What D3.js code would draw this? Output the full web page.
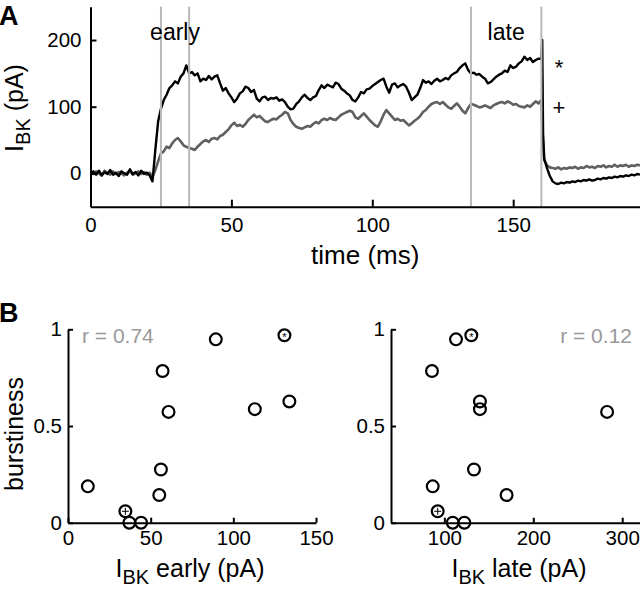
<!DOCTYPE html>
<html>
<head>
<meta charset="utf-8">
<script src="https://cdn.jsdelivr.net/npm/d3@7"></script>
<style>
  html, body { margin: 0; padding: 0; background: #fff; }
  svg { display: block; font-family: "Liberation Sans", Arial, Helvetica, sans-serif; }
</style>
</head>
<body>
<svg id="chart" width="640" height="592"></svg>
<script>
// ---------- Panel A data: I_BK traces, one sample per ms (0..195 ms) ----------
const blackTrace = [
  0, 3, -2, 4, -3, 2, -1, 5, -2, 1,
  -4, 3, 0, -2, 6, -1, 2, -3, 4, -1,
  1, -3, -12, 35, 78, 97, 110, 118, 128, 132,
  138, 135, 145, 150, 162, 150, 152, 147, 150, 138,
  142, 140, 146, 141, 145, 147, 135, 124, 128, 120,
  114, 107, 112, 120, 123, 130, 128, 122, 125, 112,
  108, 114, 115, 110, 113, 112, 114, 109, 111, 107,
  100, 96, 97, 104, 108, 114, 118, 113, 110, 114,
  116, 125, 132, 128, 133, 131, 129, 136, 134, 127,
  124, 120, 117, 110, 108, 114, 122, 120, 126, 127,
  131, 134, 137, 140, 142, 130, 121, 133, 135, 129,
  132, 134, 130, 121, 110, 114, 118, 128, 140, 136,
  138, 134, 139, 142, 138, 140, 143, 141, 147, 150,
  152, 158, 162, 165, 155, 150, 151, 148, 149, 145,
  142, 135, 137, 141, 145, 148, 150, 154, 152, 162,
  158, 160, 165, 168, 175, 170, 173, 167, 170, 172,
  172, 22, 8, -4, -12, -15, -16, -14, -15, -13,
  -14, -12, -13, -11, -12, -10, -11, -9, -11, -10,
  -8, -9, -7, -8, -6, -7, -5, -6, -4, -5,
  -3, -4, -2, -3, -1, -2
];
const blackOffTransient = [[160.3, 200], [160.6, 60]];

const grayTrace = [
  2, -1, 3, 0, -3, 4, 1, -2, 3, -1,
  2, 0, -3, 1, 4, -2, 0, 3, -1, 2,
  -2, 1, -5, 5, 18, 30, 33, 40, 38, 45,
  50, 53, 48, 42, 40, 38, 37, 35, 40, 44,
  48, 50, 47, 52, 53, 51, 56, 58, 62, 66,
  72, 76, 71, 73, 70, 74, 80, 84, 88, 84,
  86, 82, 78, 77, 80, 82, 81, 85, 88, 92,
  90, 80, 74, 70, 68, 67, 69, 71, 70, 74,
  77, 75, 80, 82, 80, 83, 81, 80, 84, 88,
  90, 92, 94, 92, 84, 82, 86, 90, 85, 80,
  76, 72, 70, 78, 88, 95, 90, 85, 80, 82,
  79, 80, 76, 72, 75, 79, 82, 86, 92, 95,
  100, 104, 106, 107, 104, 107, 103, 99, 97, 101,
  105, 100, 94, 90, 98, 104, 103, 101, 99, 100,
  102, 100, 98, 102, 104, 106, 107, 105, 108, 106,
  103, 104, 101, 100, 99, 102, 100, 104, 108, 105,
  110, 20, 12, 9, 8, 7, 9, 6, 8, 7,
  9, 8, 10, 7, 9, 8, 11, 9, 10, 8,
  11, 10, 12, 9, 11, 10, 13, 10, 12, 11,
  13, 10, 12, 11, 13, 12
];
const grayOffTransient = [[160.4, 60]];

const windowEdges = [25, 35, 135, 160];           // ms
const windowNames = [["early", 30], ["late", 147.5]];
const timeTicks = [0, 50, 100, 150];
const currentTicks = [0, 100, 200];

// ---------- Panel B data ----------
const burstiness = [0.188, 0.059, 0, 0, 0.143, 0.275, 0.784, 0.573, 0.948, 0.587, 0.969, 0.627];
const ibkEarly   = [12, 34.7, 37.1, 44.2, 55.2, 56.2, 57.2, 60.8, 89.4, 113, 130.9, 133.9];
const ibkLate    = [86.9, 92.5, 109.4, 122.5, 170, 133.3, 86.1, 283, 113.1, 140, 130.3, 140];
const cellMarks  = ["", "+", "", "", "", "", "", "", "", "", "*", ""];
const earlyTicks = [0, 50, 100, 150];
const lateTicks = [100, 200, 300];
const burstTicks = [0, 0.5, 1];
const rEarly = "r = 0.74";
const rLate = "r = 0.12";

// ---------- drawing ----------
const svg = d3.select("#chart");
const FONT_TICK = 20.5, FONT_LABEL = 25;

function styleAxis(g) {
  g.select(".domain").attr("stroke", "#000").attr("stroke-width", 2);
  g.selectAll(".tick line").attr("stroke", "#000").attr("stroke-width", 2);
  g.selectAll(".tick text").attr("font-size", FONT_TICK).attr("fill", "#000")
    .attr("font-family", "Liberation Sans, Arial, sans-serif");
}

// Panel A
const xA = d3.scaleLinear().domain([0, 195]).range([90.5, 640]);
const yA = d3.scaleLinear().domain([-50, 250]).range([206.7, 6.7]);

const toPts = (arr, extra) => arr.map((v, i) => [i, v]).concat(extra).sort((a, b) => a[0] - b[0]);
const lineA = d3.line().x(d => xA(d[0])).y(d => yA(d[1]));

svg.append("path").datum(toPts(grayTrace, grayOffTransient))
  .attr("d", lineA).attr("fill", "none").attr("stroke", "#606060")
  .attr("stroke-width", 2.6).attr("stroke-linejoin", "round");
svg.append("path").datum(toPts(blackTrace, blackOffTransient))
  .attr("d", lineA).attr("fill", "none").attr("stroke", "#000")
  .attr("stroke-width", 2.4).attr("stroke-linejoin", "round");

svg.selectAll(".win").data(windowEdges).join("line")
  .attr("x1", d => xA(d)).attr("x2", d => xA(d))
  .attr("y1", yA(250)).attr("y2", yA(-50))
  .attr("stroke", "#b8b8b8").attr("stroke-width", 2);

svg.selectAll(".winlab").data(windowNames).join("text")
  .attr("x", d => xA(d[1])).attr("y", 40)
  .attr("text-anchor", "middle").attr("font-size", 23).text(d => d[0]);

const gxA = svg.append("g").attr("transform", `translate(0,${yA(-50)})`)
  .call(d3.axisBottom(xA).tickValues(timeTicks).tickSizeInner(-7).tickSizeOuter(0).tickPadding(11));
styleAxis(gxA);
const gyA = svg.append("g").attr("transform", `translate(${xA(0)},0)`)
  .call(d3.axisLeft(yA).tickValues(currentTicks).tickSizeInner(-6).tickSizeOuter(0).tickPadding(9));
styleAxis(gyA);

svg.append("text").attr("x", xA(97.5)).attr("y", 264).attr("text-anchor", "middle")
  .attr("font-size", 26).text("time (ms)");

const ylabA = svg.append("text").attr("transform", "translate(23,108) rotate(-90)")
  .attr("text-anchor", "middle").attr("font-size", FONT_LABEL);
ylabA.append("tspan").text("I");
ylabA.append("tspan").attr("font-size", 20).attr("dy", 7).text("BK");
ylabA.append("tspan").attr("dy", -7).text(" (pA)");

svg.append("text").attr("x", 559).attr("y", 75).attr("text-anchor", "middle")
  .attr("font-size", 22).text("*");
svg.append("text").attr("x", 559).attr("y", 115).attr("text-anchor", "middle")
  .attr("font-size", 22).text("+");

svg.append("text").attr("x", -1).attr("y", 25).attr("font-size", 27)
  .attr("font-weight", "bold").text("A");
svg.append("text").attr("x", -1).attr("y", 322).attr("font-size", 27)
  .attr("font-weight", "bold").text("B");

// Panel B
const yB = d3.scaleLinear().domain([0, 1]).range([522.7, 329.3]);
const fmtB = d => d === 0 ? "0" : d === 1 ? "1" : String(d);

function scatterPanel(xScale, xVals, ticks, labelWord, rText, rX, rAnchor, labelX) {
  const gx = svg.append("g").attr("transform", `translate(0,${yB(0)})`)
    .call(d3.axisBottom(xScale).tickValues(ticks).tickSizeInner(-5).tickSizeOuter(0).tickPadding(8));
  styleAxis(gx);
  const gy = svg.append("g").attr("transform", `translate(${xScale.range()[0]},0)`)
    .call(d3.axisLeft(yB).tickValues(burstTicks).tickFormat(fmtB).tickSizeInner(-5).tickSizeOuter(0).tickPadding(6));
  styleAxis(gy);

  const pts = xVals.map((v, i) => ({ x: v, y: burstiness[i], m: cellMarks[i] }));
  svg.append("g").selectAll("circle").data(pts).join("circle")
    .attr("cx", d => xScale(d.x)).attr("cy", d => yB(d.y)).attr("r", 5.9)
    .attr("fill", "none").attr("stroke", "#000").attr("stroke-width", 2.2);

  const marked = pts.filter(d => d.m !== "");
  marked.forEach(d => {
    const cx = xScale(d.x), cy = yB(d.y);
    if (d.m === "+") {
      svg.append("line").attr("x1", cx - 3.5).attr("x2", cx + 3.5).attr("y1", cy).attr("y2", cy)
        .attr("stroke", "#000").attr("stroke-width", 1);
      svg.append("line").attr("x1", cx).attr("x2", cx).attr("y1", cy - 3.5).attr("y2", cy + 3.5)
        .attr("stroke", "#000").attr("stroke-width", 1);
    } else {
      svg.append("text").attr("x", cx).attr("y", cy + 6).attr("text-anchor", "middle")
        .attr("font-size", 11).text("*");
    }
  });

  svg.append("text").attr("x", rX).attr("y", 343).attr("text-anchor", rAnchor)
    .attr("font-size", 21).attr("fill", "#999").text(rText);

  const xl = svg.append("text").attr("x", labelX).attr("y", 577)
    .attr("text-anchor", "middle").attr("font-size", FONT_LABEL);
  xl.append("tspan").text("I");
  xl.append("tspan").attr("font-size", 20).attr("dy", 7).text("BK");
  xl.append("tspan").attr("dy", -7).text(" " + labelWord + " (pA)");
}

const xEarly = d3.scaleLinear().domain([0, 150]).range([68, 316]);
const xLate = d3.scaleLinear().domain([40, 320]).range([391, 640]);
scatterPanel(xEarly, ibkEarly, earlyTicks, "early", rEarly, 82, "start", 190);
scatterPanel(xLate, ibkLate, lateTicks, "late", rLate, 632, "end", 519);

svg.append("text").attr("transform", "translate(23,434) rotate(-90)")
  .attr("text-anchor", "middle").attr("font-size", FONT_LABEL).text("burstiness");
</script>
</body>
</html>
